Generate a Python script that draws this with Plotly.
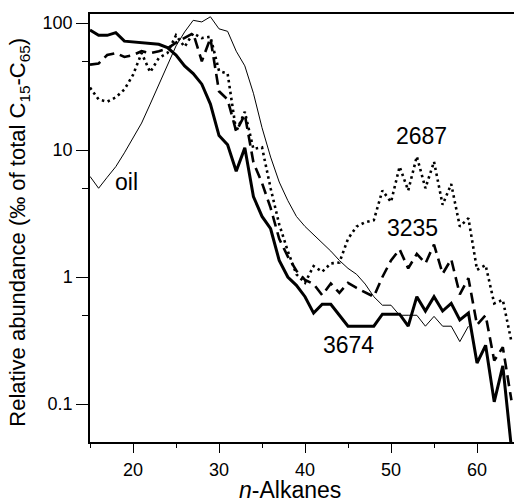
import math
import plotly.graph_objects as go

carbon = list(range(15, 65))
carbon_oil = list(range(15, 60))

oil = [6.2, 5.0, 6.1, 7.4, 9.5, 12.5, 16.3, 23, 33, 47.5,
       66, 85, 105, 102, 112, 90, 86, 60, 46, 28,
       15, 8.8, 5.6, 4.0, 3.0, 2.5, 2.15, 1.85, 1.6, 1.35,
       1.17, 1.05, 0.88, 0.70, 0.60, 0.60, 0.50, 0.50, 0.50, 0.41,
       0.49, 0.41, 0.41, 0.31, 0.41]

s3674 = [88, 80, 80, 84, 72, 71, 70, 69, 68, 64,
         56, 46, 40, 33, 23, 13, 11, 6.8, 10.4, 4.3,
         3.0, 2.4, 1.35, 1.0, 0.86, 0.70, 0.52, 0.61, 0.61, 0.50,
         0.41, 0.41, 0.41, 0.41, 0.51, 0.51, 0.51, 0.41, 0.70, 0.54,
         0.70, 0.54, 0.62, 0.46, 0.52, 0.21, 0.29, 0.104, 0.20, 0.045]

s3235 = [47, 48, 56, 58, 54, 56, 60, 58, 60, 63,
         70, 76, 83, 50, 76, 29, 25, 14, 19, 8,
         5.5, 3.5, 2.0, 1.45, 1.12, 0.95, 0.88, 0.72, 0.89, 0.75,
         0.90, 0.82, 0.76, 0.70, 1.0, 1.35, 1.65, 1.17, 1.52, 1.28,
         1.80, 1.06, 1.38, 0.73, 0.98, 0.42, 0.50, 0.22, 0.28, 0.107]

s2687 = [31, 25, 24, 26, 30, 39, 58, 41, 53, 58,
         80, 65, 83, 76, 78, 42, 40, 14, 20, 10.2,
         10.5, 5.0, 2.6, 1.6, 1.05, 0.90, 1.22, 1.10, 1.28, 1.30,
         2.0, 2.5, 2.7, 2.8, 4.8, 3.9, 7.4, 4.8, 8.9, 5.0,
         8.1, 3.7, 5.4, 2.5, 2.9, 1.14, 1.24, 0.62, 0.66, 0.31]

x_ticks = [20, 30, 40, 50, 60]
x_minor = [15, 25, 35, 45, 55]
y_ticks = [0.1, 1, 10, 100]
y_ticktext = ["0.1", "1", "10", "100"]
y_minor = [0.05, 0.5, 5, 50]

FONT = "Liberation Sans, Arial, Helvetica, sans-serif"
X_RANGE = [15, 64.3]
Y_RANGE = [-1.299, 2.071]

fig = go.Figure()
fig.add_trace(go.Scatter(x=carbon_oil, y=oil, mode="lines", name="oil",
                         line=dict(color="black", width=1)))
fig.add_trace(go.Scatter(x=carbon, y=s2687, mode="lines", name="2687",
                         line=dict(color="black", width=2.6, dash="2.5px,3.5px")))
fig.add_trace(go.Scatter(x=carbon, y=s3235, mode="lines", name="3235",
                         line=dict(color="black", width=2.6, dash="11px,6px")))
fig.add_trace(go.Scatter(x=carbon, y=s3674, mode="lines", name="3674",
                         line=dict(color="black", width=3)))

labels = [("oil", 19.2, 5.6), ("2687", 53.6, 12.9), ("3235", 52.5, 2.43), ("3674", 45.0, 0.29)]
for txt, lx, ly in labels:
    fig.add_annotation(x=lx, y=math.log10(ly), xref="x", yref="y", text=txt, showarrow=False,
                       font=dict(family=FONT, size=23, color="black"))

fig.add_annotation(xref="paper", yref="paper", x=-0.1665, y=0.49, textangle=-90,
                   xanchor="center", yanchor="middle",
                   text="Relative abundance (‰ of total C<sub>15</sub>-C<sub>65</sub>)",
                   showarrow=False, font=dict(family=FONT, size=22, color="black"))
fig.add_annotation(xref="paper", yref="paper", x=0.471, y=-0.111,
                   xanchor="center", yanchor="middle",
                   text="<i>n</i>-Alkanes", showarrow=False,
                   font=dict(family=FONT, size=23, color="black"))

fig.update_layout(
    width=514, height=504,
    margin=dict(l=90, r=0, t=14, b=62),
    paper_bgcolor="white", plot_bgcolor="white",
    showlegend=False,
    font=dict(family=FONT, size=18, color="black"),
    xaxis=dict(range=X_RANGE, showgrid=False, zeroline=False,
               showline=True, linecolor="black", linewidth=1.5, mirror=True,
               ticks="outside", tickmode="array", tickvals=x_ticks, ticklen=9, tickwidth=1.2,
               tickcolor="black", ticklabelstandoff=2),
    yaxis=dict(type="log", range=Y_RANGE, showgrid=False, zeroline=False,
               showline=True, linecolor="black", linewidth=1.5,
               ticks="outside", tickmode="array", tickvals=y_ticks, ticktext=y_ticktext,
               ticklen=12, tickwidth=1.2, tickcolor="black"),
    # overlay axes carrying the short (minor) ticks
    xaxis2=dict(range=X_RANGE, overlaying="x", side="bottom", anchor="y",
                showgrid=False, zeroline=False, showline=False,
                ticks="outside", tickmode="array", tickvals=x_minor,
                ticktext=[""] * len(x_minor), ticklen=5, tickwidth=1.2, tickcolor="black"),
    yaxis2=dict(type="log", range=Y_RANGE, overlaying="y", side="left", anchor="x",
                showgrid=False, zeroline=False, showline=False,
                ticks="outside", tickmode="array", tickvals=y_minor,
                ticktext=[""] * len(y_minor), ticklen=7, tickwidth=1.2, tickcolor="black"),
)
# invisible trace to activate the overlay axes
fig.add_trace(go.Scatter(x=[X_RANGE[0]], y=[1], xaxis="x2", yaxis="y2", mode="markers",
                         marker=dict(opacity=0), hoverinfo="skip", showlegend=False))

fig.write_html("out.html", post_script="document.body.style.margin='0';",
               config={"displayModeBar": False})
